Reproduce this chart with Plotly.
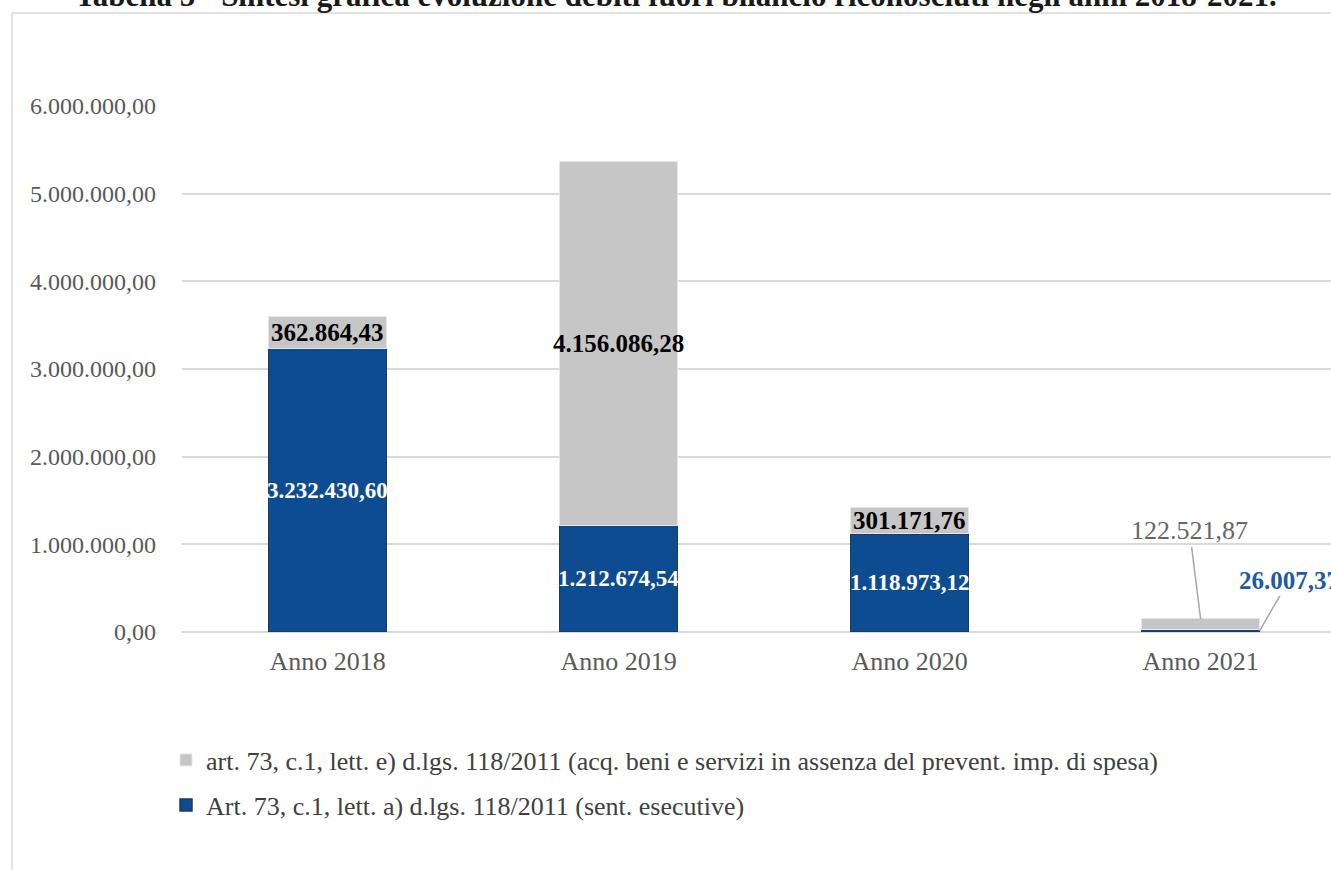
import plotly.graph_objects as go

categories = ["Anno 2018", "Anno 2019", "Anno 2020", "Anno 2021"]
sent_esecutive = [3232430.60, 1212674.54, 1118973.12, 26007.37]
acq_beni = [362864.43, 4156086.28, 301171.76, 122521.87]
y_ticks = [0, 1000000, 2000000, 3000000, 4000000, 5000000, 6000000]

name_a = "Art. 73, c.1, lett. a) d.lgs. 118/2011 (sent. esecutive)"
name_e = "art. 73, c.1, lett. e) d.lgs. 118/2011 (acq. beni e servizi in assenza del prevent. imp. di spesa)"
title = "Tabella 5 - Sintesi grafica evoluzione debiti fuori bilancio riconosciuti negli anni 2018-2021."

FONT = "Liberation Serif"
BLUE = "#0E4C92"
GRAY = "#C6C6C6"


def it_fmt(v):
    s = f"{v:,.2f}"
    return s.replace(",", "X").replace(".", ",").replace("X", ".")


fig = go.Figure()
fig.add_trace(go.Bar(
    x=categories, y=sent_esecutive, name=name_a,
    marker=dict(color=BLUE, line=dict(color="#1F3864", width=1.5)),
    width=0.405, legend="legend2",
))
fig.add_trace(go.Bar(
    x=categories, y=acq_beni, name=name_e,
    marker=dict(color=GRAY, line=dict(color="#E6E6E6", width=1)),
    width=0.405, legend="legend",
))

annotations = []
for i, cat in enumerate(categories[:3]):
    a = sent_esecutive[i]
    e = acq_beni[i]
    annotations.append(dict(x=cat, y=a / 2, xref="x", yref="y", text=f"<b>{it_fmt(a)}</b>",
                            showarrow=False, font=dict(family=FONT, size=23, color="white")))
    annotations.append(dict(x=cat, y=a + e / 2, xref="x", yref="y", text=f"<b>{it_fmt(e)}</b>",
                            showarrow=False, font=dict(family=FONT, size=25, color="black")))

# 2021 labels with leader lines
annotations.append(dict(x=3, y=sent_esecutive[3] + acq_beni[3], xref="x", yref="y",
                        text=it_fmt(acq_beni[3]), showarrow=True, arrowhead=0,
                        arrowwidth=1.5, arrowcolor="#A6A6A6", ax=-11, ay=-88,
                        font=dict(family=FONT, size=26, color="#666666")))
annotations.append(dict(x=3.2025, y=sent_esecutive[3] / 2, xref="x", yref="y",
                        text=f"<b>{it_fmt(sent_esecutive[3])}</b>", showarrow=True, arrowhead=0,
                        arrowwidth=1.5, arrowcolor="#A6A6A6", ax=29, ay=-50, xanchor="center",
                        font=dict(family=FONT, size=25, color="#1F5AA6")))

# title (partially cropped at top)
annotations.append(dict(x=(676 - 182) / 1149, y=(632 - 15) / 526, xref="paper", yref="paper",
                        text=f"<b>{title}</b>", showarrow=False, yanchor="bottom", xanchor="center",
                        font=dict(family=FONT, size=31, color="#1a1a1a")))

shapes = [
    dict(type="line", xref="paper", yref="paper", x0=(12 - 182) / 1149, x1=1.01,
         y0=(632 - 13) / 526, y1=(632 - 13) / 526, line=dict(color="#D9D9D9", width=1.5)),
    dict(type="line", xref="paper", yref="paper", x0=(12 - 182) / 1149, x1=(12 - 182) / 1149,
         y0=(632 - 13) / 526, y1=-0.5, line=dict(color="#D9D9D9", width=1.5)),
]

leg_font = dict(family=FONT, size=26, color="#404040")
fig.update_layout(
    width=1331, height=870,
    margin=dict(l=182, r=0, t=106, b=238),
    barmode="stack",
    separators=",.",
    plot_bgcolor="white", paper_bgcolor="white",
    font=dict(family=FONT, size=23, color="#595959"),
    annotations=annotations,
    shapes=shapes,
    showlegend=True,
    legend=dict(x=(166 - 182) / 1149, y=(632 - 760) / 526, xanchor="left", yanchor="middle",
                font=leg_font, bgcolor="rgba(0,0,0,0)"),
    legend2=dict(x=(166 - 182) / 1149, y=(632 - 805) / 526, xanchor="left", yanchor="middle",
                 font=leg_font, bgcolor="rgba(0,0,0,0)"),
    xaxis=dict(range=[-0.5, 3.448], showgrid=False, showline=False, ticks="",
               tickfont=dict(family=FONT, size=26, color="#595959"), ticklabelstandoff=11),
    yaxis=dict(range=[0, 6000000], tickvals=y_ticks, tickformat=",.2f",
               showgrid=True, gridcolor="#D9D9D9", gridwidth=1.5,
               zeroline=True, zerolinecolor="#D9D9D9", zerolinewidth=1.5,
               showline=False, ticks="", ticklabelstandoff=25,
               tickfont=dict(family=FONT, size=24, color="#595959")),
)

fig.write_html("out.html")
